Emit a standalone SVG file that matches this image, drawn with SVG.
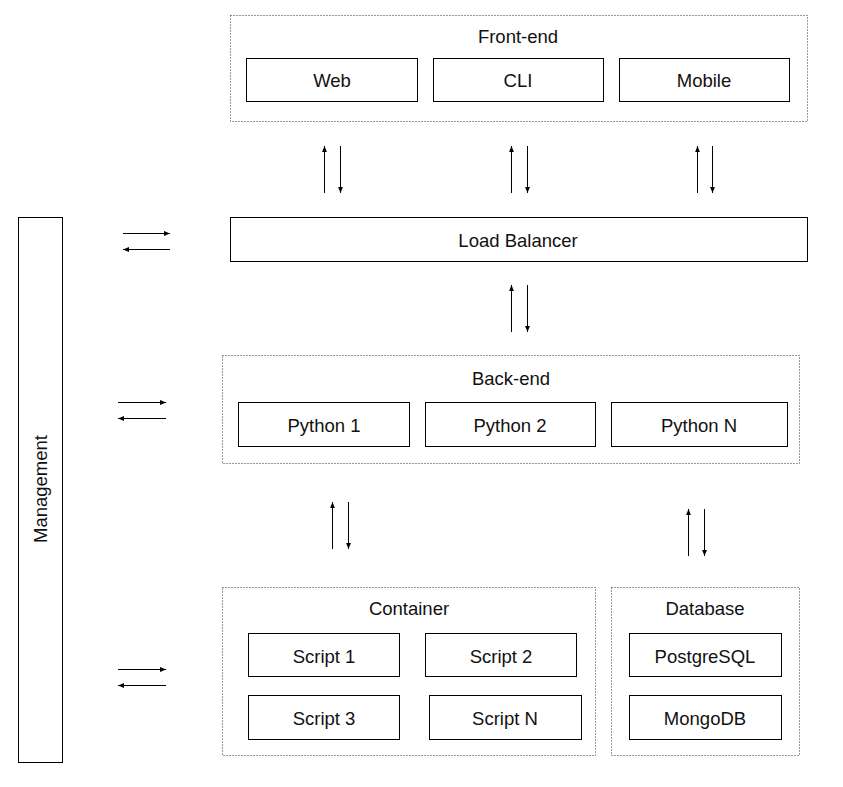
<svg xmlns="http://www.w3.org/2000/svg" width="843" height="787" viewBox="0 0 843 787">
  <style>
    text { font-family: "Liberation Sans", Arial, sans-serif; font-size: 18.5px; fill: #111; text-anchor: middle; dominant-baseline: central; }
    .box { fill: #fff; stroke: #000; stroke-width: 1; }
    .group { fill: none; stroke: #333; stroke-width: 1; stroke-dasharray: 1 2; }
    .arrow { stroke: #000; stroke-width: 1; fill: none; marker-end: url(#head); }
  </style>
  <defs>
    <marker id="head" viewBox="0 0 6 6" refX="6" refY="3" markerWidth="6" markerHeight="6" markerUnits="userSpaceOnUse" orient="auto">
      <path d="M0,0.6 L6,3 L0,5.4 Z" fill="#000"/>
    </marker>
  </defs>
  <rect width="843" height="787" fill="#fff"/>

  <!-- Front-end tier -->
  <g id="frontend">
    <rect class="group" x="230.5" y="15.5" width="577" height="106"/>
    <text x="518" y="36">Front-end</text>
    <g id="web"><rect class="box" x="246.5" y="58.5" width="171" height="43"/><text x="332" y="80">Web</text></g>
    <g id="cli"><rect class="box" x="433.5" y="58.5" width="170" height="43"/><text x="518" y="80">CLI</text></g>
    <g id="mobile"><rect class="box" x="619.5" y="58.5" width="170" height="43"/><text x="704" y="80">Mobile</text></g>
  </g>

  <!-- Load balancer -->
  <g id="load-balancer">
    <rect class="box" x="230.5" y="217.5" width="577" height="44"/>
    <text x="518" y="240">Load Balancer</text>
  </g>

  <!-- Back-end tier -->
  <g id="backend">
    <rect class="group" x="222.5" y="355.5" width="577" height="108"/>
    <text x="511" y="378">Back-end</text>
    <g id="python1"><rect class="box" x="238.5" y="402.5" width="171" height="44"/><text x="324" y="425">Python 1</text></g>
    <g id="python2"><rect class="box" x="425.5" y="402.5" width="170" height="44"/><text x="510" y="425">Python 2</text></g>
    <g id="pythonN"><rect class="box" x="611.5" y="402.5" width="176" height="44"/><text x="699" y="425">Python N</text></g>
  </g>

  <!-- Container -->
  <g id="container">
    <rect class="group" x="222.5" y="587.5" width="373" height="168"/>
    <text x="409" y="608">Container</text>
    <g id="script1"><rect class="box" x="248.5" y="633.5" width="151" height="43"/><text x="324" y="656">Script 1</text></g>
    <g id="script2"><rect class="box" x="425.5" y="633.5" width="151" height="43"/><text x="501" y="656">Script 2</text></g>
    <g id="script3"><rect class="box" x="248.5" y="695.5" width="151" height="44"/><text x="324" y="718">Script 3</text></g>
    <g id="scriptN"><rect class="box" x="429.5" y="695.5" width="152" height="44"/><text x="505" y="718">Script N</text></g>
  </g>

  <!-- Database -->
  <g id="database">
    <rect class="group" x="611.5" y="587.5" width="188" height="168"/>
    <text x="705" y="608">Database</text>
    <g id="postgresql"><rect class="box" x="629.5" y="633.5" width="152" height="43"/><text x="705" y="656">PostgreSQL</text></g>
    <g id="mongodb"><rect class="box" x="629.5" y="695.5" width="152" height="44"/><text x="705" y="718">MongoDB</text></g>
  </g>

  <!-- Management -->
  <g id="management">
    <rect class="box" x="18.5" y="217.5" width="44" height="545"/>
    <text x="40" y="489" transform="rotate(-90 40 489)">Management</text>
  </g>

  <!-- Connectors -->
  <g id="connectors">
    <!-- front-end <-> load balancer -->
    <line class="arrow" x1="324.5" y1="193" x2="324.5" y2="146"/>
    <line class="arrow" x1="340.5" y1="146" x2="340.5" y2="193"/>
    <line class="arrow" x1="511.5" y1="193" x2="511.5" y2="146"/>
    <line class="arrow" x1="527.5" y1="146" x2="527.5" y2="193"/>
    <line class="arrow" x1="697.5" y1="193" x2="697.5" y2="146"/>
    <line class="arrow" x1="712.5" y1="146" x2="712.5" y2="193"/>
    <!-- load balancer <-> back-end -->
    <line class="arrow" x1="511.5" y1="332" x2="511.5" y2="285"/>
    <line class="arrow" x1="527.5" y1="285" x2="527.5" y2="332"/>
    <!-- back-end <-> container -->
    <line class="arrow" x1="332.5" y1="549" x2="332.5" y2="502"/>
    <line class="arrow" x1="348.5" y1="502" x2="348.5" y2="549"/>
    <!-- back-end <-> database -->
    <line class="arrow" x1="688.5" y1="556" x2="688.5" y2="509"/>
    <line class="arrow" x1="704.5" y1="509" x2="704.5" y2="556"/>
    <!-- management <-> load balancer -->
    <line class="arrow" x1="123" y1="233.5" x2="170" y2="233.5"/>
    <line class="arrow" x1="170" y1="249.5" x2="123" y2="249.5"/>
    <!-- management <-> back-end -->
    <line class="arrow" x1="118" y1="402.5" x2="166" y2="402.5"/>
    <line class="arrow" x1="166" y1="418.5" x2="118" y2="418.5"/>
    <!-- management <-> container -->
    <line class="arrow" x1="118" y1="669.5" x2="166" y2="669.5"/>
    <line class="arrow" x1="166" y1="685.5" x2="118" y2="685.5"/>
  </g>
</svg>
